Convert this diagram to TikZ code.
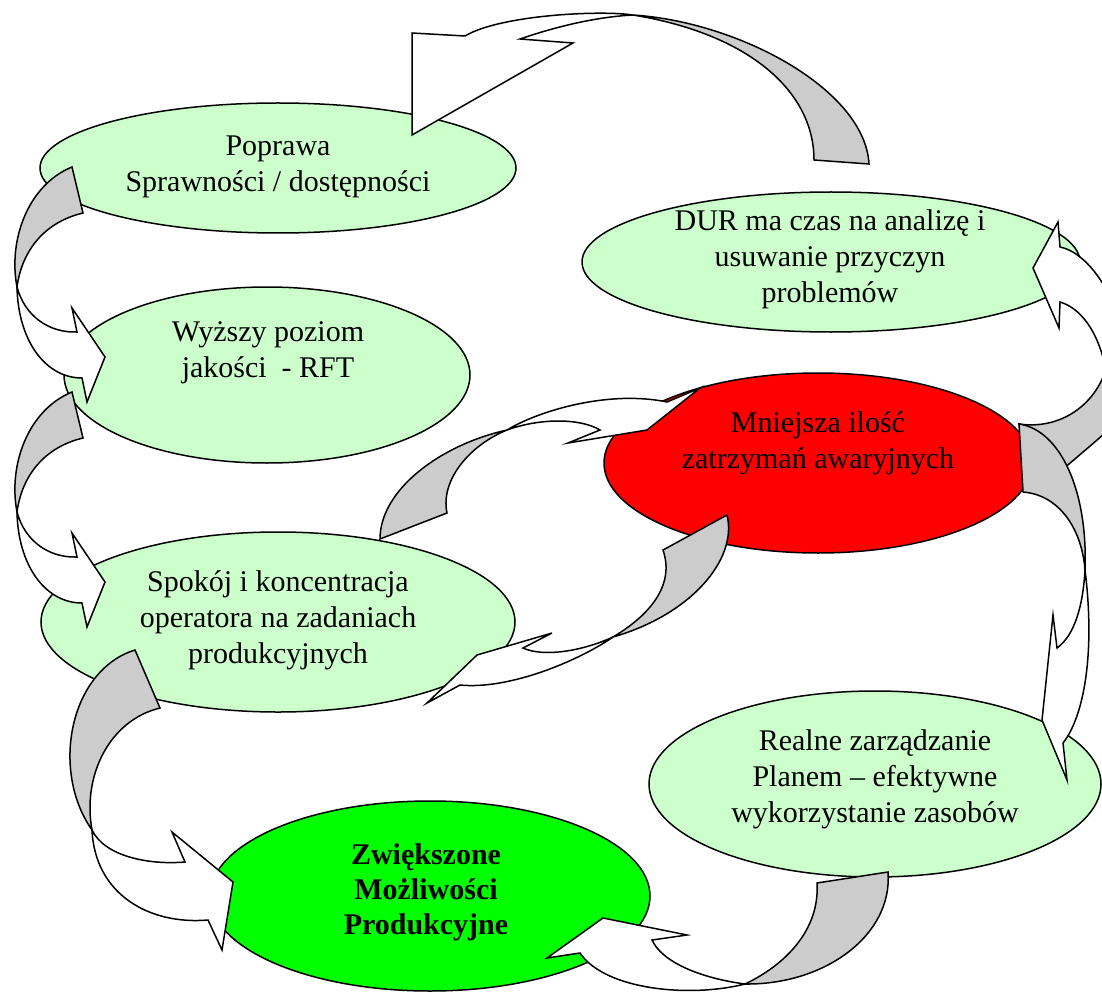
\documentclass[tikz,border=0pt]{standalone}
\usepackage{fontspec}
\setmainfont{Liberation Serif}
\usetikzlibrary{shapes.geometric}
\definecolor{lgreen}{HTML}{CCFFCC}
\definecolor{agray}{HTML}{CCCCCC}
\definecolor{bred}{HTML}{FF0000}
\definecolor{bgreen}{HTML}{00FF00}
\begin{document}
\begin{tikzpicture}[x=1pt,y=-1pt,
  bubble/.style={ellipse, draw, line width=1.5pt, inner sep=0pt},
  lbl/.style={align=center, font=\fontsize{30}{36}\selectfont, inner sep=0pt},
  back/.style={fill=agray, draw, line width=1.5pt, line join=miter},
  front/.style={fill=white, draw, line width=1.5pt, line join=miter}]
\useasboundingbox (0,0) rectangle (1102,992);
\clip (0,0) rectangle (1102,992);

% ellipses
\node[bubble, fill=lgreen, minimum width=476pt, minimum height=130pt] (e1) at (278,168) {};
\node[bubble, fill=lgreen, minimum width=498pt, minimum height=140pt] (e2) at (831,262) {};
\node[bubble, fill=lgreen, minimum width=406pt, minimum height=176pt] (e3) at (267,375) {};
\node[bubble, fill=bred, minimum width=428pt, minimum height=180pt] (e4) at (818,463) {};
\node[bubble, fill=lgreen, minimum width=474pt, minimum height=180pt] (e5) at (278,622) {};
\node[bubble, fill=lgreen, minimum width=452pt, minimum height=186pt] (e6) at (875,784) {};
\node[bubble, fill=bgreen, minimum width=440pt, minimum height=190pt] (e7) at (430,896) {};

% texts
\node[lbl] (t1) at (278,167) {Poprawa\\Sprawności / dostępności};
\node[lbl] (t2) at (830,259) {DUR ma czas na analizę i\\usuwanie przyczyn\\problemów};
\node[lbl] (t3) at (268,353) {Wyższy poziom\\jakości \ - RFT};
\node[lbl] (t4) at (818,443) {Mniejsza ilość\\zatrzymań awaryjnych};
\node[lbl] (t5) at (278,620) {Spokój i koncentracja\\operatora na zadaniach\\produkcyjnych};
\node[lbl] (t6) at (875,779) {Realne zarządzanie\\Planem – efektywne\\wykorzystanie zasobów};
\node[lbl, font=\fontsize{30}{35}\selectfont\bfseries] (t7) at (426,892) {Zwiększone\\Możliwości\\Produkcyjne};

% arrow A (top)
\path[back] (633,15) .. controls (740,22) and (865,90) .. (869,164) -- (814,160)
  .. controls (814,92) and (750,34) .. (633,15) -- cycle;
\path[front] (633,15) .. controls (600,10) and (500,15) .. (465,36) -- (412,33) -- (412,135)
  -- (573,43) -- (520,39) .. controls (555,27) and (595,17) .. (633,15) -- cycle;

% arrow B and C (left)
\foreach \dy in {0,225}{
\begin{scope}[yshift=-\dy pt]
\path[back] (72,167) .. controls (28,185) and (8,240) .. (17,287)
  .. controls (22,250) and (45,222) .. (83,213) -- cycle;
\path[front] (17,287) .. controls (25,317) and (50,333) .. (77,332) -- (72,308) -- (105,357)
  -- (87,402) -- (82,378) .. controls (45,378) and (18,340) .. (17,287) -- cycle;
\end{scope}}

% arrow D (Spokoj -> Zwiekszone)
\path[back] (135,650) .. controls (70,670) and (50,770) .. (92,830)
  .. controls (82,775) and (110,720) .. (160,708) -- cycle;
\path[front] (92,830) .. controls (105,857) and (150,865) .. (185,862) -- (172,832) -- (233,882)
  -- (222,950) -- (208,920) .. controls (150,925) and (95,895) .. (92,830) -- cycle;

% arrow E (Realne -> Zwiekszone)
\path[back] (817,883) -- (888,872) .. controls (893,935) and (825,985) .. (745,984)
  .. controls (785,965) and (820,930) .. (817,883) -- cycle;
\path[front] (745,984) .. controls (700,978) and (662,962) .. (652,940) -- (687,935) -- (603,918)
  -- (547,958) -- (580,953) .. controls (605,990) and (690,998) .. (745,984) -- cycle;

% arrow G (Mniejsza -> DUR), cut by the right edge
\path[back] (1019,424) .. controls (1060,430) and (1098,405) .. (1108,362) -- (1165,340)
  .. controls (1150,400) and (1120,420) .. (1062,470) -- (1035,470) -- cycle;
\path[front] (1060,247) -- (1058,222) -- (1033,268) -- (1059,328) -- (1060,302)
  .. controls (1080,308) and (1098,330) .. (1106,370) -- (1140,370) -- (1120,320)
  .. controls (1108,285) and (1085,252) .. (1060,247) -- cycle;

% arrow H (Mniejsza -> Realne)
\path[back] (1019,424) .. controls (1060,430) and (1088,490) .. (1085,570)
  .. controls (1082,530) and (1060,495) .. (1023,492) -- cycle;
\path[front] (1085,570) .. controls (1083,605) and (1075,635) .. (1057,648) -- (1053,615) -- (1042,720)
  -- (1067,780) -- (1063,743) .. controls (1085,715) and (1095,650) .. (1085,570) -- cycle;

% arrow I1 (Spokoj -> Mniejsza)
\path[back] (380,539) .. controls (380,490) and (440,445) .. (507,430)
  .. controls (470,445) and (440,480) .. (447,513) -- cycle;
\path[front] (507,430) .. controls (540,410) and (610,390) .. (667,402) -- (700,388) -- (647,430)
  -- (568,443) -- (600,430) .. controls (580,418) and (540,418) .. (507,430) -- cycle;

% arrow I2 (Mniejsza -> Spokoj)
\path[back] (727,515) .. controls (738,560) and (690,615) .. (613,637)
  .. controls (650,615) and (675,585) .. (663,550) -- cycle;
\path[front] (613,637) .. controls (580,660) and (510,690) .. (460,685) -- (427,703) -- (477,655)
  -- (552,633) -- (523,648) .. controls (545,658) and (585,650) .. (613,637) -- cycle;
\end{tikzpicture}
\end{document}
